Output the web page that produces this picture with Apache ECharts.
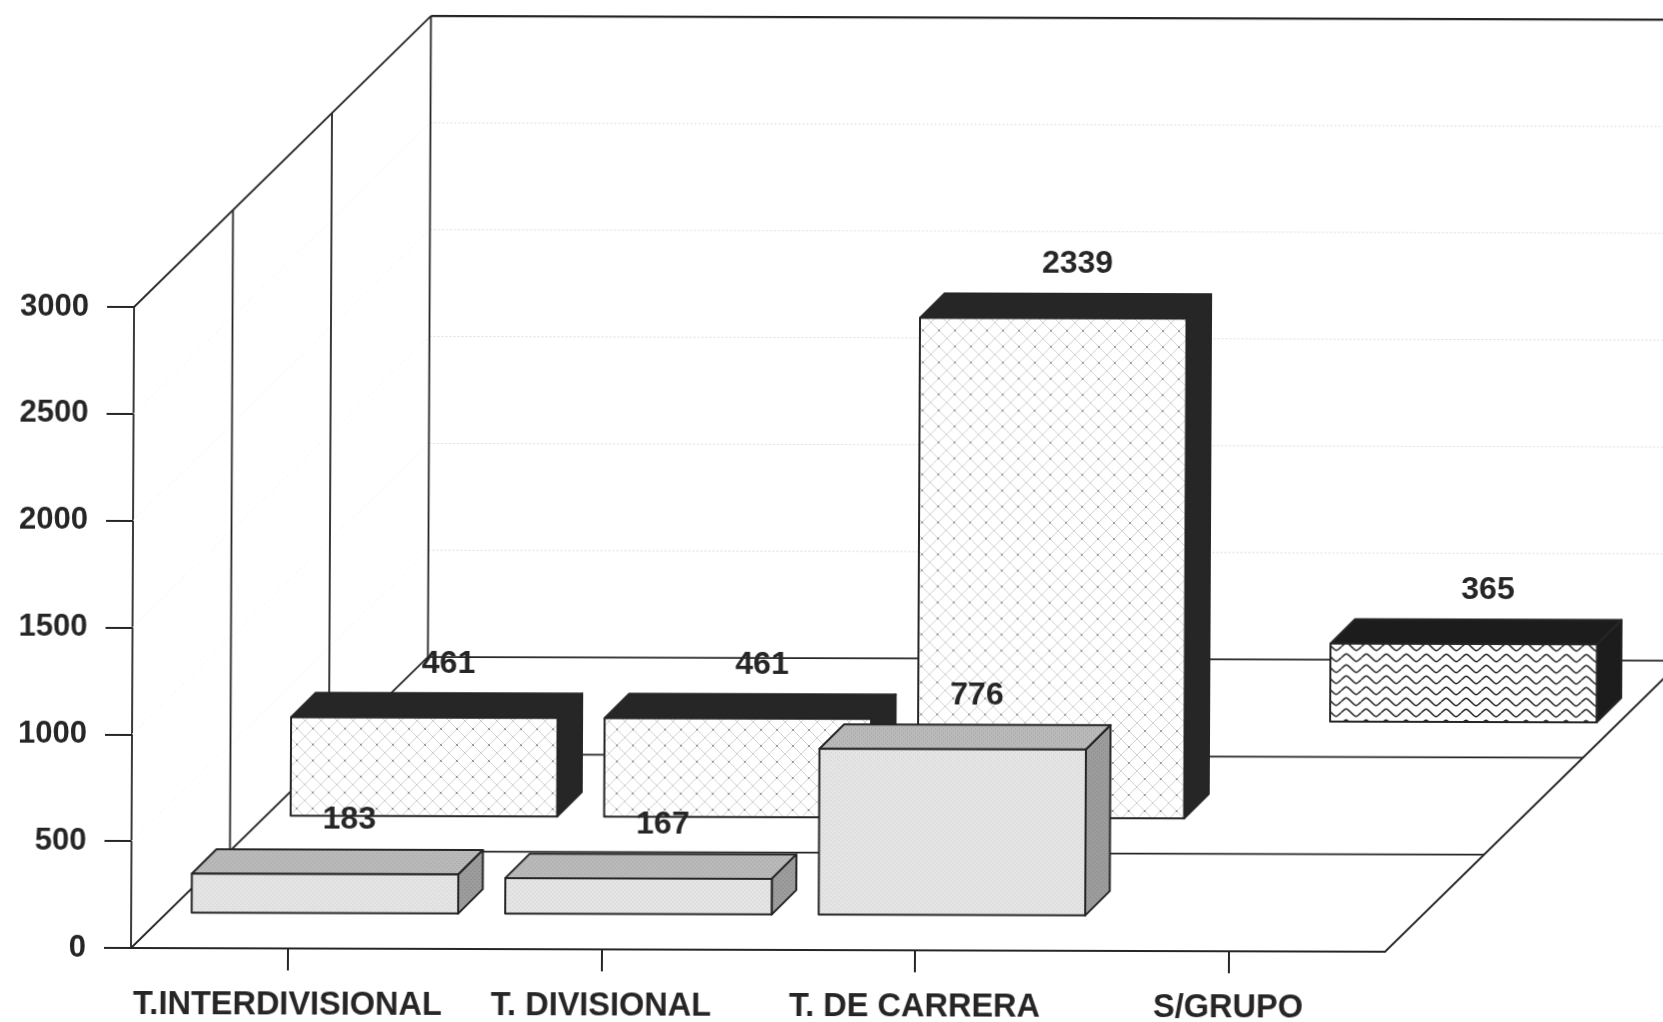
<!DOCTYPE html>
<html>
<head>
<meta charset="utf-8">
<title>chart</title>
<script src="https://cdn.jsdelivr.net/npm/echarts@6/dist/echarts.min.js"></script>
<style>
  html, body { margin: 0; padding: 0; background: #fff; overflow: hidden; }
  /* the original is a slightly crooked scan */
  #main { width: 1663px; height: 1022px; transform: matrix(1, 0.003, -0.0048, 1, 0, 0); transform-origin: 132px 947px; }
</style>
</head>
<body>
<div id="main"></div>
<script>
var categories = ['T.INTERDIVISIONAL', 'T. DIVISIONAL', 'T. DE CARRERA', 'S/GRUPO'];
var frontValues = [183, 167, 776, null];
var middleValues = [461, 461, 2339, null];
var rearValues = [null, null, null, 365];
var wallTicks = [500, 1000, 1500, 2000, 2500];
var depthRows = [1, 2, 3];

var rowDx = 98.5, rowDy = -97.3;
var barDepth = 24.5;
var lineColor = '#262626';
var textFont = 'bold 32px "Liberation Sans", Arial, sans-serif';

function makeTile(w, h, draw) {
  var c = document.createElement('canvas');
  c.width = w;
  c.height = h;
  draw(c.getContext('2d'));
  return { image: c, repeat: 'repeat' };
}

var hatchFill = makeTile(16, 16, function (g) {
  g.fillStyle = '#fff';
  g.fillRect(0, 0, 16, 16);
  g.strokeStyle = '#c6c6c6';
  g.lineWidth = 0.8;
  g.beginPath();
  g.moveTo(0, 0); g.lineTo(16, 16);
  g.moveTo(16, 0); g.lineTo(0, 16);
  g.stroke();
  g.fillStyle = '#9a9a9a';
  g.fillRect(7, 7, 2, 2);
});

var waveFill = makeTile(20, 11, function (g) {
  g.fillStyle = '#fff';
  g.fillRect(0, 0, 20, 11);
  g.strokeStyle = '#222';
  g.lineWidth = 1.6;
  g.beginPath();
  g.moveTo(0, 5);
  g.bezierCurveTo(5, 0, 5, 0, 10, 5);
  g.bezierCurveTo(15, 10, 15, 10, 20, 5);
  g.stroke();
});

function greyTile(base, dot) {
  return makeTile(4, 4, function (g) {
    g.fillStyle = base;
    g.fillRect(0, 0, 4, 4);
    g.fillStyle = dot;
    g.fillRect(0, 0, 1, 1);
    g.fillRect(2, 2, 1, 1);
  });
}

var frontStyle = { face: greyTile('#e4e4e4', '#d2d2d2'), top: greyTile('#b9b9b9', '#a6a6a6'), side: greyTile('#9c9c9c', '#8a8a8a') };
var middleStyle = { face: hatchFill, top: '#262626', side: '#262626' };
var rearStyle = { face: waveFill, top: '#1c1c1c', side: '#1c1c1c' };

function poly(points, fill) {
  return {
    type: 'polygon',
    shape: { points: points },
    style: { fill: fill, stroke: lineColor, lineWidth: 2, lineJoin: 'round' }
  };
}

function seg(x1, y1, x2, y2, stroke, width, dash) {
  return {
    type: 'line',
    shape: { x1: x1, y1: y1, x2: x2, y2: y2 },
    style: { stroke: stroke, lineWidth: width, lineDash: dash || null }
  };
}

function barRenderer(row, st) {
  return function (params, api) {
    var top = api.coord([api.value(0), api.value(1)]);
    var base = api.coord([api.value(0), 0]);
    var w = api.size([1, 0])[0] * 0.85;
    var offX = rowDx * (row + 0.5) - barDepth / 2;
    var offY = rowDy * (row + 0.5) + barDepth / 2 + 1;
    var x0 = base[0] + offX - w / 2;
    var x1 = x0 + w;
    var y0 = base[1] + offY;
    var y1 = top[1] + offY;
    var d = barDepth;
    return {
      type: 'group',
      children: [
        poly([[x0, y1], [x0 + d, y1 - d], [x1 + d, y1 - d], [x1, y1]], st.top),
        poly([[x1, y1], [x1 + d, y1 - d], [x1 + d, y0 - d], [x1, y0]], st.side),
        poly([[x0, y1], [x1, y1], [x1, y0], [x0, y0]], st.face),
        {
          type: 'text',
          style: {
            x: (x0 + x1) / 2 + 24,
            y: y1 - 54,
            text: String(api.value(1)),
            font: textFont,
            fill: '#262626',
            align: 'center',
            verticalAlign: 'middle'
          }
        }
      ]
    };
  };
}

function wallFrame(params, api) {
  var cs = params.coordSys;
  var L = cs.x, R = cs.x + cs.width;
  var y0 = api.coord([0, 0])[1];
  var yTop = api.coord([0, 3000])[1];
  var d = api.value(0);
  var dx = rowDx * d, dy = rowDy * d;
  var kids = [
    seg(L + dx, y0 + dy, L + dx, yTop + dy, lineColor, 1.8),
    seg(L + dx, y0 + dy, R + dx, y0 + dy, lineColor, 1.8)
  ];
  if (d === 3) {
    kids.push(seg(L, y0, L + dx, y0 + dy, lineColor, 1.8));
    kids.push(seg(R, y0, R + dx, y0 + dy, lineColor, 1.8));
    kids.push(seg(L, yTop, L + dx, yTop + dy, lineColor, 1.8));
    kids.push(seg(L + dx, yTop + dy, R + dx, yTop + dy, lineColor, 2.2));
  }
  return { type: 'group', children: kids };
}

function wallGrid(params, api) {
  var cs = params.coordSys;
  var L = cs.x, R = cs.x + cs.width;
  var y = api.coord([0, api.value(0)])[1];
  var dx = rowDx * 3, dy = rowDy * 3;
  return {
    type: 'group',
    children: [
      seg(L, y, L + dx, y + dy, '#f3f3f3', 1, [2, 3]),
      seg(L + dx, y + dy, R + dx, y + dy, '#dcdcdc', 1, [2, 2])
    ]
  };
}

function toPoints(values) {
  var out = [];
  for (var i = 0; i < values.length; i++) {
    if (values[i] !== null) out.push([i, values[i]]);
  }
  return out;
}

var chart = echarts.init(document.getElementById('main'));
var option = {
  animation: false,
  backgroundColor: '#fff',
  // outerBoundsMode none: otherwise v6 squeezes the grid to keep the bottom labels in
  grid: { left: 131, top: 307, width: 1254, height: 641, outerBoundsMode: 'none' },
  xAxis: {
    type: 'category',
    data: categories,
    axisLine: { lineStyle: { color: lineColor, width: 2 } },
    axisTick: { show: true, alignWithLabel: true, length: 22, lineStyle: { color: lineColor, width: 2 } },
    axisLabel: {
      interval: 0,
      margin: 41,
      color: '#262626',
      fontFamily: 'Liberation Sans',
      fontWeight: 'bold',
      fontSize: 32.5
    },
    splitLine: { show: false }
  },
  yAxis: {
    type: 'value',
    min: 0,
    max: 3000,
    interval: 500,
    axisLine: { show: true, lineStyle: { color: lineColor, width: 1.8 } },
    axisTick: { show: true, length: 27, lineStyle: { color: lineColor, width: 2 } },
    axisLabel: {
      margin: 45,
      color: '#262626',
      fontFamily: 'Liberation Sans',
      fontWeight: 'bold',
      fontSize: 31,
      formatter: function (v) { return String(v); }
    },
    splitLine: { show: false }
  },
  series: [
    { type: 'custom', clip: false, z: 1, silent: true, data: wallTicks.map(function (t) { return [t]; }), encode: { x: -1, y: 0 }, renderItem: wallGrid },
    { type: 'custom', clip: false, z: 2, silent: true, data: depthRows.map(function (r) { return [r]; }), encode: { x: -1, y: -1 }, renderItem: wallFrame },
    { name: 'rear', type: 'custom', clip: false, z: 3, data: toPoints(rearValues), encode: { x: 0, y: 1 }, renderItem: barRenderer(2, rearStyle) },
    { name: 'middle', type: 'custom', clip: false, z: 4, data: toPoints(middleValues), encode: { x: 0, y: 1 }, renderItem: barRenderer(1, middleStyle) },
    { name: 'front', type: 'custom', clip: false, z: 5, data: toPoints(frontValues), encode: { x: 0, y: 1 }, renderItem: barRenderer(0, frontStyle) }
  ]
};
chart.setOption(option);
</script>
</body>
</html>
